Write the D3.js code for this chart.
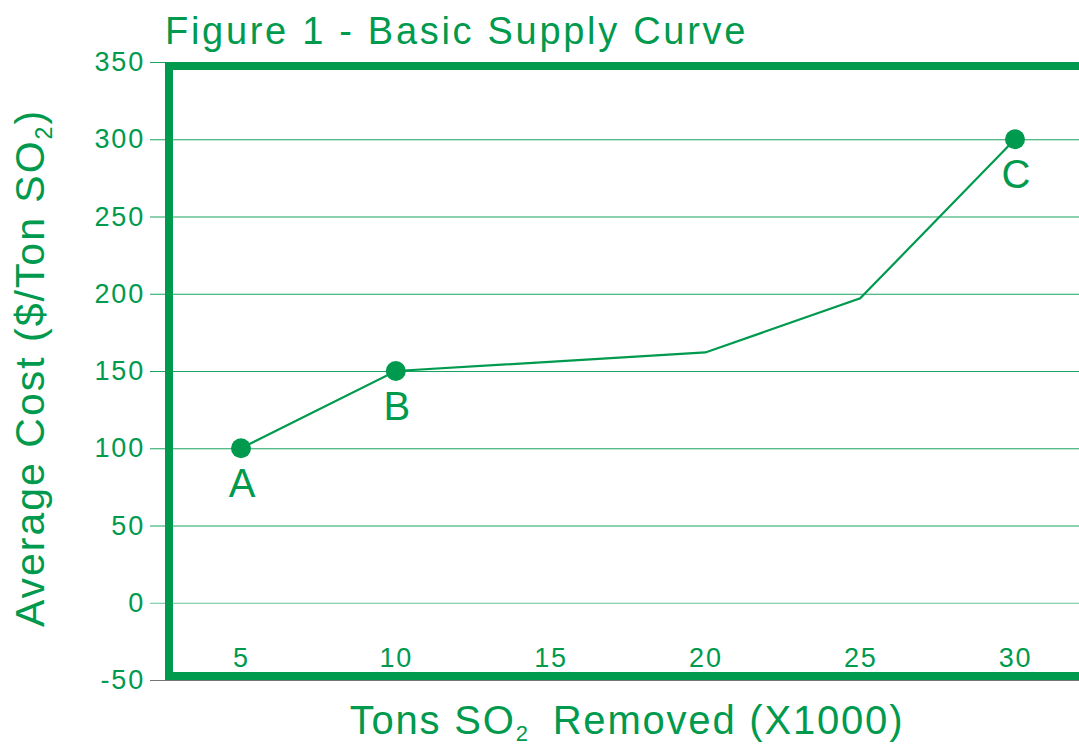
<!DOCTYPE html>
<html>
<head>
<meta charset="utf-8">
<script src="https://cdn.jsdelivr.net/npm/d3@7"></script>
<style>
  body { margin: 0; background: #fff; }
  svg { display: block; font-family: "Liberation Sans", Arial, sans-serif; }
</style>
</head>
<body>
<svg id="chart" width="1079" height="745"></svg>
<script>
// supply curve data (tons in thousands, cost in $/ton)
const xTicks = [5, 10, 15, 20, 25, 30];
const yTicks = [350, 300, 250, 200, 150, 100, 50, 0, -50];
const tons = [5, 10, 20, 25, 30];
const cost = [100, 150, 162, 197, 300];
const markerTons = [5, 10, 30];
const markerCost = [100, 150, 300];
const markerLabels = ["A", "B", "C"];

const green = "#009a4e";
const svg = d3.select("#chart");
const W = 1079;

const x = d3.scaleLinear().domain([5, 30]).range([241, 1015]);
const y = d3.scaleLinear().domain([-50, 350]).range([680, 62]);

// title
svg.append("text")
  .attr("x", 165).attr("y", 44)
  .attr("fill", green)
  .style("font-size", "38px")
  .style("letter-spacing", "2.7px")
  .text("Figure 1 - Basic Supply Curve");

// y axis with gridlines
const yAxis = svg.append("g")
  .attr("transform", "translate(150,0)")
  .call(d3.axisLeft(y).tickValues(yTicks).tickSizeInner(-(W - 150)).tickSizeOuter(0).tickPadding(5)
    .tickFormat(d => d < 0 ? "-" + Math.abs(d) : d));
yAxis.select(".domain").remove();
yAxis.selectAll(".tick line")
  .attr("stroke", d => d === -50 ? "#666" : green)
  .attr("stroke-width", 1.2)
  .attr("stroke-opacity", d => d === 0 ? 0.6 : 0.9);
yAxis.selectAll(".tick text")
  .attr("fill", green)
  .style("font-size", "27px")
  .style("letter-spacing", "1.8px")
  .style("font-family", "Liberation Sans, Arial, sans-serif");

// x axis labels sit inside the frame
const xAxis = svg.append("g")
  .attr("transform", "translate(0,670)")
  .call(d3.axisTop(x).tickValues(xTicks).tickSize(0).tickPadding(3));
xAxis.select(".domain").remove();
xAxis.selectAll(".tick text")
  .attr("fill", green)
  .style("font-size", "27px")
  .style("letter-spacing", "1.8px")
  .style("font-family", "Liberation Sans, Arial, sans-serif");

// frame
const frame = svg.append("g").attr("stroke", green).attr("stroke-width", 8);
frame.append("line").attr("x1", 165).attr("x2", W).attr("y1", y(350) + 4).attr("y2", y(350) + 4);
frame.append("line").attr("x1", 165).attr("x2", W).attr("y1", y(-50) - 4).attr("y2", y(-50) - 4);
frame.append("line").attr("x1", 169).attr("x2", 169).attr("y1", y(350)).attr("y2", y(-50));

// curve
const line = d3.line().x(d => x(d[0])).y(d => y(d[1]));
svg.append("path")
  .datum(d3.zip(tons, cost))
  .attr("d", line)
  .attr("fill", "none")
  .attr("stroke", green)
  .attr("stroke-width", 2.2);

const pts = d3.zip(markerTons, markerCost, markerLabels);
svg.selectAll("circle.pt").data(pts).enter().append("circle")
  .attr("class", "pt")
  .attr("cx", d => x(d[0])).attr("cy", d => y(d[1]))
  .attr("r", 10).attr("fill", green);

svg.selectAll("text.pt").data(pts).enter().append("text")
  .attr("class", "pt")
  .attr("x", d => x(d[0]) + 1).attr("y", d => y(d[1]) + 49)
  .attr("text-anchor", "middle")
  .attr("fill", green)
  .style("font-size", "40px")
  .text(d => d[2]);

// axis titles
const xt = svg.append("text")
  .attr("x", 627).attr("y", 734)
  .attr("text-anchor", "middle")
  .attr("fill", green)
  .style("font-size", "40px")
  .style("letter-spacing", "1.8px");
xt.append("tspan").text("Tons SO");
xt.append("tspan").attr("dy", 7).style("font-size", "22px").text("2");
xt.append("tspan").attr("dy", -7).attr("dx", 10).text(" Removed (X1000)");

const yt = svg.append("text")
  .attr("transform", "translate(44,368) rotate(-90)")
  .attr("text-anchor", "middle")
  .attr("fill", green)
  .style("font-size", "41px")
  .style("letter-spacing", "2px");
yt.append("tspan").text("Average Cost ($/Ton SO");
yt.append("tspan").attr("dy", 8).style("font-size", "23px").text("2");
yt.append("tspan").attr("dy", -8).text(")");
</script>
</body>
</html>
